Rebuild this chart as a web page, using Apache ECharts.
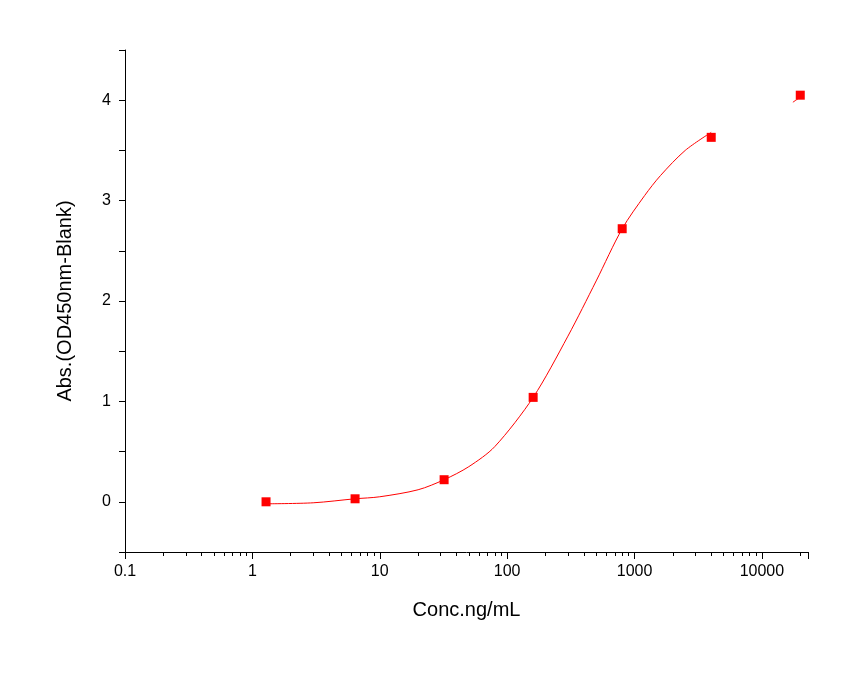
<!DOCTYPE html>
<html><head><meta charset="utf-8">
<script src="https://cdn.jsdelivr.net/npm/echarts@6/dist/echarts.min.js"></script>
<style>html,body{margin:0;padding:0;background:#fff}#c{width:857px;height:681px}</style>
</head><body><div id="c"></div>
<script>
const concs = [1.28, 6.4, 32, 160, 800, 4000, 20000];
const absVals = [0.0, 0.03, 0.22, 1.04, 2.72, 3.63, 4.05];
const curveX = [1.3, 3, 6.4, 10, 20, 32, 50, 80, 160, 300, 500, 800, 1200, 1600, 2500, 4000, 9000, 17500, 20000];
const curveY = [-0.02, -0.01, 0.03, 0.05, 0.12, 0.22, 0.35, 0.55, 1.04, 1.65, 2.2, 2.72, 3.05, 3.25, 3.5, 3.68, null, 3.98, 4.03];
const chart = echarts.init(document.getElementById('c'));
const F = 'Liberation Sans, Arial, sans-serif';
chart.setOption({
  animation:false,
  grid:{left:125,right:49,top:50,bottom:129},
  xAxis:{type:'log',logBase:10,min:0.1,max:23000,
    name:'Conc.ng/mL',nameLocation:'middle',nameGap:48,
    nameTextStyle:{fontFamily:F,fontSize:20,color:'#000'},
    axisLine:{onZero:false,lineStyle:{color:'#000'}},
    axisTick:{inside:false,length:7,lineStyle:{color:'#000'}},
    minorTick:{show:true,splitNumber:9,length:4,lineStyle:{color:'#000'}},
    splitLine:{show:false},
    axisLabel:{fontFamily:F,fontSize:16,color:'#000',margin:12,showMaxLabel:false,
      formatter:v=>String(+v.toPrecision(6))}},
  yAxis:{type:'value',min:-0.5,max:4.5,interval:0.5,
    name:'Abs.(OD450nm-Blank)',nameLocation:'middle',nameGap:50,
    nameTextStyle:{fontFamily:F,fontSize:20,color:'#000'},
    axisLine:{show:true,onZero:false,lineStyle:{color:'#000'}},
    axisTick:{inside:false,length:6,lineStyle:{color:'#000'}},
    splitLine:{show:false},
    axisLabel:{fontFamily:F,fontSize:16,color:'#000',margin:14,
      formatter:v=>Number.isInteger(v)?String(v):''}},
  series:[
    {type:'line',data:curveX.map((x,i)=>[x,curveY[i]]),smooth:0.3,showSymbol:false,connectNulls:false,
     lineStyle:{color:'#ff0000',width:1}},
    {type:'scatter',data:concs.map((x,i)=>[x,absVals[i]]),symbol:'rect',symbolSize:9,
     itemStyle:{color:'#ff0000',opacity:1}}
  ]
});
</script></body></html>
